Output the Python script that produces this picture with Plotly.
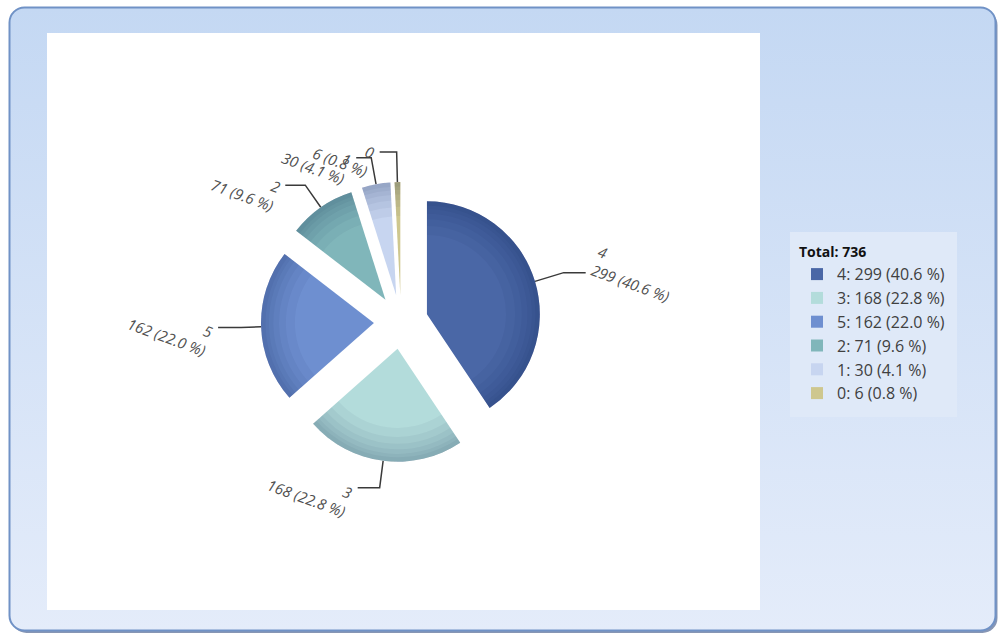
import base64
import math

import plotly.graph_objects as go

# ---- data -----------------------------------------------------------------
categories = ["4", "3", "5", "2", "1", "0"]
counts = [299, 168, 162, 71, 30, 6]
slice_colors = ["#4a67a6", "#b3dcdb", "#6e8fd0", "#80b6ba", "#c7d5f0", "#cec78e"]

# ---- page geometry (pixels) -----------------------------------------------
W, H = 1000, 635
PIE_CX, PIE_CY = 401, 322          # centre of the exploded pie
PIE_HALF = 140                     # half size of the pie box (radius incl. pull)
PULL = 0.24

# leader line style per slice: radial run, then horizontal run (px)
radial_run = [30, 27, 20, 27, 27, 30]
horiz_run = [22, 22, 23, 20, 15, 17]
LABEL_ANGLE = 20

total = sum(counts)
pcts = [f"{100 * c / total:.1f}" for c in counts]
legend_labels = [f"{c}: {v} ({p} %)" for c, v, p in zip(categories, counts, pcts)]

# ---- background panel drawn as an inline SVG ----------------------------------
panel_svg = f"""<svg xmlns="http://www.w3.org/2000/svg" width="{W}" height="{H}" viewBox="0 0 {W} {H}">
<defs>
<linearGradient id="bg" x1="0" y1="0" x2="0" y2="1">
<stop offset="0" stop-color="#c4d8f3"/>
<stop offset="1" stop-color="#e4ecfa"/>
</linearGradient>
</defs>
<rect x="0" y="0" width="{W}" height="{H}" fill="#ffffff"/>
<rect x="11.5" y="10" width="986" height="623" rx="15" fill="#8796b4"/>
<rect x="9.5" y="7.5" width="986" height="623" rx="15" fill="url(#bg)" stroke="#7092c6" stroke-width="2"/>
<rect x="47" y="33" width="713" height="577" fill="#ffffff"/>
</svg>"""
panel_uri = "data:image/svg+xml;base64," + base64.b64encode(panel_svg.encode()).decode()

fig = go.Figure()

# ---- pie --------------------------------------------------------------------
domain = dict(
    x=[(PIE_CX - PIE_HALF) / W, (PIE_CX + PIE_HALF) / W],
    y=[1 - (PIE_CY + PIE_HALF) / H, 1 - (PIE_CY - PIE_HALF) / H],
)
common = dict(
    values=counts,
    sort=False,
    direction="clockwise",
    rotation=0,
    pull=[PULL] * len(counts),
    domain=domain,
    textinfo="none",
)
fig.add_trace(go.Pie(
    labels=legend_labels,
    marker=dict(colors=slice_colors, line=dict(width=0)),
    hovertemplate="%{label}<extra></extra>",
    **common,
))
# stacked translucent rings darken the outer edge of every slice
for hole in [0.70, 0.78, 0.84, 0.89, 0.93, 0.96]:
    fig.add_trace(go.Pie(
        labels=legend_labels,
        hole=hole,
        marker=dict(colors=["rgba(10,25,60,0.045)"] * len(counts), line=dict(width=0)),
        showlegend=False,
        hoverinfo="skip",
        **common,
    ))

# ---- leader lines and labels ------------------------------------------------------
radius = 2 * PIE_HALF / (2 + 2 * PULL)
offset = PULL * radius
cum = 0
annotations = []
for i, (cat, v, p) in enumerate(zip(categories, counts, pcts)):
    mid = 2 * math.pi * (cum + v / 2) / total
    cum += v
    dx, dy = math.sin(mid), -math.cos(mid)
    x0 = PIE_CX + (offset + radius) * dx
    y0 = PIE_CY + (offset + radius) * dy
    x1 = x0 + radial_run[i] * dx
    y1 = y0 + radial_run[i] * dy
    side = 1 if dx > 0 else -1
    x2 = x1 + side * horiz_run[i]
    fig.add_trace(go.Scatter(
        x=[x0, x1, x2], y=[y0, y1, y1], mode="lines",
        line=dict(color="#3a3a3a", width=1.5),
        showlegend=False, hoverinfo="skip",
        xaxis="x", yaxis="y",
    ))
    annotations.append(dict(
        x=x2, y=y1, xref="x", yref="y",
        text=f"<i>{cat}<br>{v} ({p} %)</i>",
        showarrow=False,
        textangle=LABEL_ANGLE,
        xanchor="left" if side > 0 else "right",
        yanchor="middle",
        yshift=-1,
        align="left" if side > 0 else "right",
        font=dict(family="Open Sans, sans-serif", size=15, color="#505050"),
    ))

fig.update_layout(
    width=W, height=H,
    margin=dict(l=0, r=0, t=0, b=0),
    paper_bgcolor="#ffffff",
    plot_bgcolor="rgba(0,0,0,0)",
    xaxis=dict(range=[0, W], visible=False, fixedrange=True),
    yaxis=dict(range=[H, 0], visible=False, fixedrange=True),
    images=[dict(source=panel_uri, xref="paper", yref="paper", x=0, y=1,
                 sizex=1, sizey=1, xanchor="left", yanchor="top",
                 sizing="stretch", layer="below")],
    annotations=annotations,
    legend=dict(
        x=790 / W, y=1 - 232 / H, xanchor="left", yanchor="top",
        bgcolor="#dfe9f8",
        bordercolor="#dfe9f8",
        borderwidth=7,
        title=dict(text="<b>Total: " + str(total) + "</b>",
                   font=dict(family="Open Sans, sans-serif", size=14, color="#111111")),
        font=dict(family="Open Sans, sans-serif", size=16, color="#404040"),
        entrywidth=140,
    ),
)

fig.write_html("out.html")
